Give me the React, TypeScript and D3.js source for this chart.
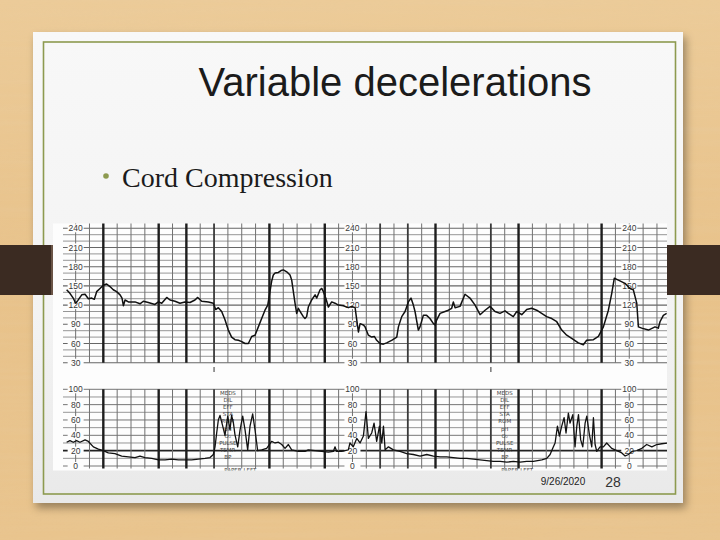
import React from 'react';
import * as d3 from 'd3';

// fetal heart rate trace (seconds from left edge, bpm)
const fhrSeconds = [
  3.5, 6, 8.5, 10, 11.5, 14.4, 16.8, 19.2, 21.6, 23.5, 25.2, 27.6, 30, 32.4, 34.8, 37.2, 39.6, 42.1, 43.5, 44.5,
  45.7, 48.1, 52.9, 56.5, 58.9, 62.5, 67.3, 69.8, 72.2, 75.8, 78.2, 81.8, 85.4, 89, 92.6, 96.2, 98.2, 101.1, 105.9, 109.5,
  111.2, 113.1, 115.5, 117.9, 120.3, 122.7, 125.1, 127.6, 130, 132.4, 134.8, 137.2, 139.6, 142, 144.4, 146.8, 148.8, 150.4, 151.6, 152.8,
  154.1, 156.5, 158.4, 160.1, 162.5, 164.9, 166.1, 167.3, 168.5, 169.7, 170.9, 172.8, 174.5, 175.7, 176.9, 178.1, 180.5, 183, 184.2, 186.6,
  187.8, 189, 190.7, 192.6, 195, 197.4, 199.8, 203.4, 207, 209.4, 211.9, 213.1, 214.3, 215.5, 217.9, 219.1, 221.5, 223.9, 225.8, 227.5,
  229.9, 232.3, 234.7, 238.3, 242, 243.2, 245.6, 248, 250.4, 252.3, 254, 255.2, 257.6, 258.8, 261.2, 263.6, 266, 268.5, 269.7, 270.9,
  273.3, 276.9, 279.3, 281.7, 282.9, 284.1, 287.7, 291.3, 294.9, 298.6, 302.2, 305.8, 309.4, 313, 316.6, 320.2, 322.6, 326.2, 328.7, 332.3,
  335.9, 339.5, 343.1, 346.7, 350.3, 354, 357.6, 361.2, 364.8, 368.4, 373.2, 376.8, 379.2, 384.1, 387.7, 391.3, 394.9, 397.3, 399.2, 402.1,
  406.9, 410.5, 412.9, 415.4, 416.6, 419, 423.8, 428.6, 431, 432.2, 434.6, 437,
];
const fhrBpm = [
  144, 138, 130, 123, 127, 136, 137, 130, 131, 129, 141, 146, 151, 153, 149, 144, 141, 136, 131, 119,
  128, 125, 125, 122, 126, 124, 121, 125, 123, 132, 128, 126, 123, 125, 124, 128, 132, 126, 125, 123,
  113, 116, 110, 97, 81, 70, 66, 65, 63, 60, 60, 71, 73, 86, 99, 112, 120, 141, 157, 167,
  170, 171, 174, 175, 172, 167, 159, 141, 123, 107, 115, 108, 102, 99, 102, 117, 128, 136, 131, 144,
  146, 141, 131, 117, 125, 123, 120, 119, 116, 118, 116, 97, 78, 91, 89, 86, 73, 70, 71, 65,
  60, 59, 61, 65, 70, 86, 102, 110, 125, 131, 120, 110, 81, 86, 104, 104, 99, 91, 89, 97,
  107, 110, 112, 115, 125, 116, 118, 137, 131, 120, 105, 112, 118, 110, 107, 111, 107, 102, 110, 105,
  113, 115, 112, 107, 102, 99, 94, 81, 73, 68, 61, 58, 65, 66, 71, 86, 112, 138, 162, 159,
  154, 146, 144, 123, 86, 84, 81, 86, 84, 94, 104, 107,
];

// uterine activity trace (seconds, mmHg)
const ucSeconds = [
  3.5, 5.9, 8.3, 10.7, 13.1, 16.8, 19.2, 22.8, 26.4, 30, 33.6, 38.4, 43.3, 48.1, 52.9, 56.5, 60.1, 65, 69.8, 74.6,
  79.4, 84.2, 89, 93.8, 98.7, 103.5, 107.1, 109.5, 110.7, 111.9, 113.1, 114.3, 116, 117.9, 119.9, 121.5, 122.7, 124, 125.1, 127.1,
  128.8, 130.7, 132.4, 134.3, 136, 137.9, 139.6, 141.5, 144.4, 148, 151.6, 154.1, 156.5, 158.9, 161.3, 163.7, 166.1, 170.9, 175.7, 178.1,
  183, 187.8, 192.6, 196.2, 197.4, 198.6, 202.2, 207, 208.2, 210.6, 213.1, 215.5, 217.9, 219.8, 221.5, 223.9, 225.6, 227.5, 229.5, 231.2,
  232.4, 233.6, 236, 239.6, 244.4, 249.2, 254, 258.9, 263.7, 268.5, 273.3, 278.1, 282.9, 287.8, 292.6, 297.4, 302.2, 307, 311.8, 316.7,
  321.5, 326.3, 331.1, 335.9, 340.7, 346.8, 350.4, 352.8, 354.7, 356.4, 358.1, 359.5, 361.2, 362.9, 364.3, 366, 367.2, 369.2, 370.8, 372.1,
  373.3, 374.9, 376.4, 378.1, 379.3, 381.2, 382.9, 384.1, 385.3, 386.5, 388.9, 391.3, 393.7, 397.3, 401, 404.6, 407, 409.4, 411.9, 415.4,
  419.1, 422.6, 426.3, 429.9, 433.5, 438.3,
];
const ucValue = [
  31, 33, 31, 33, 31, 34, 32, 25, 22, 20, 17, 16, 13, 12, 11, 13, 11, 10, 8, 8,
  9, 8, 8, 8, 9, 10, 11, 15, 25, 43, 60, 66, 54, 40, 65, 47, 66, 56, 41, 25,
  47, 65, 47, 21, 52, 68, 47, 20, 21, 23, 32, 30, 31, 28, 23, 28, 21, 19, 19, 21,
  20, 19, 18, 19, 25, 19, 19, 21, 30, 25, 36, 30, 39, 71, 36, 43, 56, 32, 52, 30,
  52, 21, 25, 21, 19, 16, 15, 13, 15, 13, 12, 12, 11, 10, 10, 9, 8, 7, 6, 6,
  5, 6, 5, 6, 6, 8, 10, 15, 23, 30, 52, 39, 52, 63, 43, 69, 56, 67, 25, 52,
  67, 34, 25, 56, 65, 41, 25, 63, 28, 19, 25, 25, 30, 23, 20, 17, 13, 15, 19, 20,
  23, 28, 25, 28, 29, 30,
];

const fhrTicks = [240, 210, 180, 150, 120, 90, 60, 30];
const ucTicks = [100, 80, 60, 40, 20, 0];
const heavySeconds = [30, 70, 90, 150, 190, 270, 330, 390];
const mediumSeconds = [110, 230, 250, 310];
const scaleSeconds = [10, 210, 410];
const markSeconds = [110, 310];
const noteSeconds = [120, 320];
const noteLabels = ['MEDS', 'DIL', 'EFF', 'STA', 'ROM', 'pH', 'O₂', 'PULSE', 'TEMP.', 'BP'];

const W = 720;
const H = 540;

const App: React.FC = () => {
  const x = d3.scaleLinear().domain([0, 440]).range([61.8, 670.8]);
  const yF = d3.scaleLinear().domain([30, 240]).range([362.7, 228.3]);
  const yU = d3.scaleLinear().domain([0, 100]).range([466, 389.3]);

  const fhrPath = d3
    .line<number>()
    .x((_, i) => x(fhrSeconds[i]))
    .y((d) => yF(d))(fhrBpm);
  const ucPath = d3
    .line<number>()
    .x((_, i) => x(ucSeconds[i]))
    .y((d) => yU(d))(ucValue);

  const vLines = d3.range(0, 441, 10);
  const vStyle = (t: number) =>
    heavySeconds.includes(t)
      ? { stroke: '#1d1d1d', w: 2.4 }
      : mediumSeconds.includes(t)
      ? { stroke: '#3a3a3a', w: 1.8 }
      : { stroke: '#707070', w: 1 };

  return (
    <svg
      width={W}
      height={H}
      style={{ position: 'fixed', left: 0, top: 0, display: 'block' }}
    >
      <defs>
        <linearGradient id="woodBase" x1="0" y1="0" x2="0" y2="1">
          <stop offset="0" stopColor="#eccb98" />
          <stop offset="0.5" stopColor="#e8c28a" />
          <stop offset="1" stopColor="#e9c48d" />
        </linearGradient>
        <filter id="grain" x="0" y="0" width="100%" height="100%">
          <feTurbulence type="fractalNoise" baseFrequency="0.004 0.15" numOctaves={3} seed={7} />
          <feColorMatrix
            type="matrix"
            values="0 0 0 0 0.80  0 0 0 0 0.62  0 0 0 0 0.40  0.9 0 0 0 -0.3"
          />
        </filter>
        <linearGradient id="card" x1="0" y1="0" x2="0" y2="1">
          <stop offset="0" stopColor="#f8f8f8" />
          <stop offset="0.6" stopColor="#f3f3f3" />
          <stop offset="1" stopColor="#e9e9e9" />
        </linearGradient>
        <filter id="shadow" x="-5%" y="-5%" width="115%" height="115%">
          <feDropShadow dx="3" dy="5" stdDeviation="4" floodColor="#000" floodOpacity="0.35" />
        </filter>
        <clipPath id="paper">
          <rect x={63} y={223.5} width={604} height={247} />
        </clipPath>
      </defs>

      {/* wood background */}
      <rect width={W} height={H} fill="url(#woodBase)" />
      <rect width={W} height={H} filter="url(#grain)" opacity={0.35} />

      {/* slide card */}
      <rect x={33} y={32} width={650} height={471} fill="url(#card)" filter="url(#shadow)" />
      <rect x={43.5} y={42} width={632} height={452} fill="none" stroke="#8d9a4f" strokeWidth={1.6} />

      {/* dark band behind */}
      <rect x={0} y={245} width={W} height={50} fill="#3b2b22" />
      <rect x={51} y={245} width={2} height={50} fill="#6a5446" />

      {/* strip paper */}
      <rect x={53} y={223.5} width={614} height={247} fill="#fdfdfd" />

      <g clipPath="url(#paper)">
        {/* FHR grid */}
        {d3.range(30, 241, 10).map((v) => (
          <line
            key={`fh${v}`}
            x1={63}
            x2={667}
            y1={yF(v)}
            y2={yF(v)}
            stroke={v % 30 === 0 ? '#666' : '#8a8a8a'}
            strokeWidth={v % 30 === 0 ? 1.1 : 0.9}
          />
        ))}
        {vLines.map((t) => {
          const s = vStyle(t);
          return (
            <line
              key={`fv${t}`}
              x1={x(t)}
              x2={x(t)}
              y1={222}
              y2={yF(30)}
              stroke={s.stroke}
              strokeWidth={s.w}
            />
          );
        })}

        {/* UC grid */}
        {d3.range(0, 101, 10).map((v) => (
          <line
            key={`uh${v}`}
            x1={63}
            x2={667}
            y1={yU(v)}
            y2={yU(v)}
            stroke={v === 20 ? '#222' : v % 20 === 0 ? '#666' : '#8a8a8a'}
            strokeWidth={v === 20 ? 1.6 : 0.9}
          />
        ))}
        {vLines.map((t) => {
          const s = vStyle(t);
          return (
            <line
              key={`uv${t}`}
              x1={x(t)}
              x2={x(t)}
              y1={yU(100)}
              y2={468.5}
              stroke={s.stroke}
              strokeWidth={s.w}
            />
          );
        })}

        {/* scale labels printed on the paper */}
        {scaleSeconds.map((s) => (
          <g key={`sc${s}`} fontFamily="Liberation Sans, Arial, sans-serif" fontSize={8.5} fill="#3a3a3a">
            {fhrTicks.map((v) => (
              <g key={`ft${v}`}>
                <rect x={x(s) - 8} y={yF(v) - 4} width={16} height={8} fill="#fdfdfd" />
                <text x={x(s)} y={yF(v) + 3} textAnchor="middle">
                  {v}
                </text>
              </g>
            ))}
            {ucTicks.map((v) => (
              <g key={`ut${v}`}>
                <rect x={x(s) - 8} y={yU(v) - 4} width={16} height={8} fill="#fdfdfd" />
                <text x={x(s)} y={yU(v) + 3} textAnchor="middle">
                  {v}
                </text>
              </g>
            ))}
          </g>
        ))}

        {/* note column */}
        {noteSeconds.map((s) => (
          <g key={`nt${s}`} fontFamily="DejaVu Sans, sans-serif" fontSize={5.5} fill="#444" textAnchor="middle">
            {noteLabels.map((l, i) => (
              <text key={l} x={x(s)} y={395 + i * 7.1}>
                {l}
              </text>
            ))}
            <text x={x(s + 9)} y={472}>
              PAPER LEFT
            </text>
          </g>
        ))}

        {/* traces */}
        <path d={fhrPath ?? ''} fill="none" stroke="#111" strokeWidth={1.5} strokeLinejoin="round" />
        <path d={ucPath ?? ''} fill="none" stroke="#111" strokeWidth={1.3} strokeLinejoin="round" />
      </g>

      {/* event marks between the panels */}
      {markSeconds.map((t) => (
        <line key={`mk${t}`} x1={x(t)} x2={x(t)} y1={367} y2={372} stroke="#555" strokeWidth={1.2} />
      ))}

      {/* slide text */}
      <text
        x={395}
        y={96}
        textAnchor="middle"
        fontFamily="Liberation Sans, Arial, sans-serif"
        fontSize={40}
        fill="#1b1b1b"
      >
        Variable decelerations
      </text>
      <circle cx={106} cy={176} r={2.8} fill="#8d9a4f" />
      <text x={122} y={187} fontFamily="Liberation Serif, Times New Roman, serif" fontSize={28} fill="#1b1b1b">
        Cord Compression
      </text>
      <text x={563} y={485} textAnchor="middle" fontFamily="Liberation Sans, Arial, sans-serif" fontSize={10} fill="#222">
        9/26/2020
      </text>
      <text x={613} y={487} textAnchor="middle" fontFamily="Liberation Sans, Arial, sans-serif" fontSize={14} fill="#333">
        28
      </text>
    </svg>
  );
};

export default App;
